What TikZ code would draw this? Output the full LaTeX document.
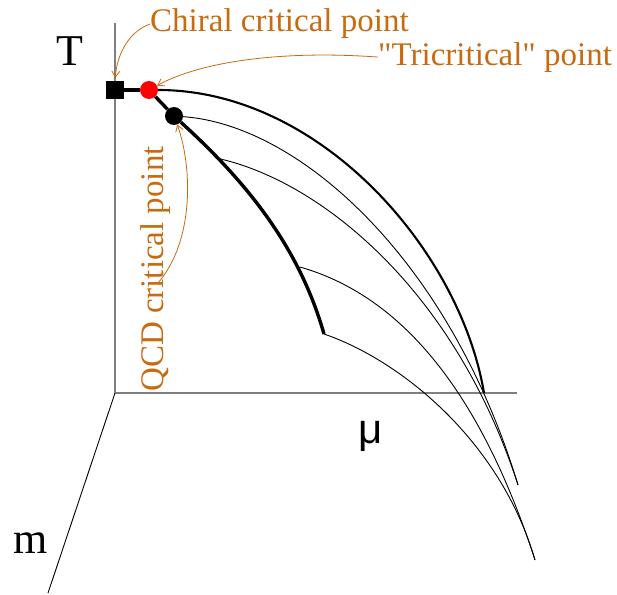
\documentclass[tikz,border=0pt]{standalone}
\usepackage{fontspec}
\setmainfont{Liberation Serif}[Ligatures=TeXOff]
\newfontfamily\mufont{Liberation Sans}
\usetikzlibrary{arrows.meta}
\usepackage{xcolor}
\definecolor{noteorange}{HTML}{C86A10}
\definecolor{axisgray}{HTML}{7F7F7F}

\begin{document}
\begin{tikzpicture}[
    x=1pt, y=-1pt,
    axis/.style={draw=axisgray, line width=1.3pt},
    maxis/.style={line width=0.9pt},
    crossover/.style={line width=2.1pt},
    firstorder/.style={line width=3.4pt},
    wing/.style={line width=0.9pt},
    critdot/.style={inner sep=0pt, minimum size=18pt},
    notelbl/.style={text=noteorange, inner sep=0pt,
        font=\fontsize{33}{36}\selectfont},
    notearrow/.style={draw=noteorange, line width=0.8pt,
        -{Straight Barb[length=6pt, width=8pt]}},
    axislbl/.style={inner sep=0pt, font=\fontsize{44}{48}\selectfont}
]

\useasboundingbox (0,0) rectangle (617,594);

% Axes
\coordinate (origin) at (115,393);
\coordinate (ttop) at (115,23);
\coordinate (muend) at (517,393);
\coordinate (mend) at (48,593);
\draw[axis] (origin) -- (ttop);
\draw[axis] (origin) -- (muend);
\draw[maxis] (origin) -- (mend);

\node[axislbl, anchor=base] (tlbl) at (69.5,65) {T};
\node[axislbl, anchor=base, font=\mufont\fontsize{42}{46}\selectfont]
    (mulbl) at (371,443) {μ};
\node[axislbl, anchor=base] (mlbl) at (31,553) {m};

% Critical points
\node[critdot, rectangle, fill=black] (chiral) at (115,90) {};
\node[critdot, circle, fill=red] (tcp) at (149,90) {};
\node[critdot, circle, fill=black] (qcd) at (174,116) {};

% Points on the first-order line, ends of the wings
\coordinate (fo1) at (216,158);
\coordinate (fo2) at (300,267);
\coordinate (foend) at (324,334);
\coordinate (tcpend) at (484,393);
\coordinate (wingA) at (518,485);
\coordinate (wingB) at (535,560);

% --- Transition lines ---
\draw[firstorder] (chiral) -- (tcp);
\draw[firstorder] (tcp) -- (qcd);
\draw[firstorder] (qcd) .. controls (250,185) and (300,250) .. (foend);
\draw[crossover] (tcp) .. controls (320,90) and (460,250) .. (tcpend);

% --- Wings ---
\draw[wing] (qcd) .. controls (300,125) and (450,260) .. (wingA);
\draw[wing] (fo1) .. controls (320,180) and (455,290) .. (wingA);
\draw[wing] (fo2) .. controls (380,290) and (470,360) .. (wingB);
\draw[wing] (foend) .. controls (400,360) and (500,440) .. (wingB);

% Annotations
\node[notelbl, anchor=base west] (chirallbl) at (150,32)
    {Chiral critical point};
\node[notelbl, anchor=base west] (tcplbl) at (378,65)
    {"Tricritical" point};
\node[notelbl, anchor=base west, rotate=90] (qcdlbl) at (163,392)
    {QCD critical point};
\coordinate (qcdtail) at (158,283);

\draw[notearrow, shorten >=3pt]
    (chirallbl.west) .. controls (128,32) and (117,55) .. (chiral.north);
\draw[notearrow]
    (tcplbl.west) .. controls (280,50) and (200,62) .. (tcp);
\draw[notearrow]
    (qcdtail) .. controls (195,240) and (192,165) .. (qcd);

\end{tikzpicture}
\end{document}
